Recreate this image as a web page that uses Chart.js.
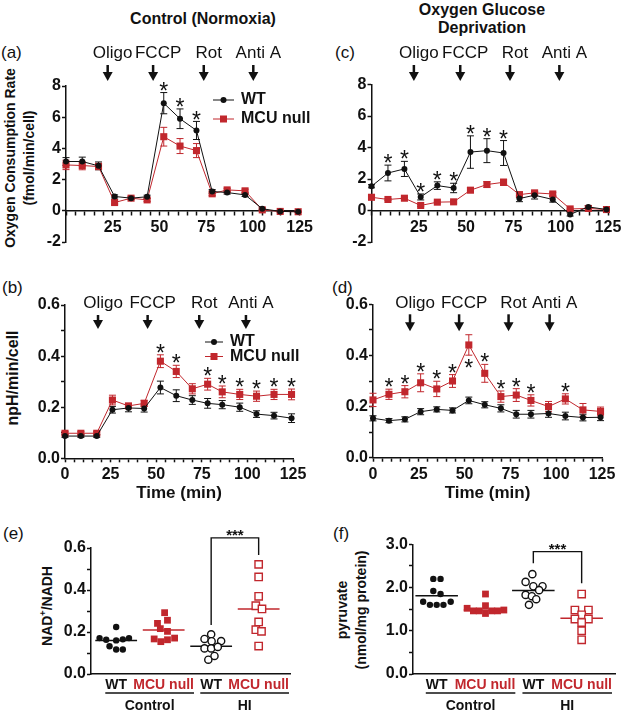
<!DOCTYPE html>
<html>
<head>
<meta charset="utf-8">
<title>MCU null respiration</title>
<script src="https://cdn.jsdelivr.net/npm/chart.js@4.4.0/dist/chart.umd.min.js"></script>
<style>
  body { margin: 0; background: #fff; }
  #figure { position: relative; width: 626px; height: 715px; overflow: hidden;
            font-family: "Liberation Sans", Arial, Helvetica, sans-serif; color: #111; }
  #figure canvas { position: absolute; }
  .txt { position: absolute; white-space: nowrap; line-height: 1; }
  .bold { font-weight: bold; }
  .center { transform: translate(-50%, -50%); text-align: center; }
  .left { transform: translate(0, -50%); }
  .vert { transform: translate(-50%, -50%) rotate(-90deg); text-align: center; }
  sup { font-size: 9px; vertical-align: 6px; line-height: 0; }
</style>
</head>
<body>
<div id="figure">
  <div class="txt bold center" style="left:203px; top:19px; font-size:16px;">Control (Normoxia)</div>
  <div class="txt bold center" style="left:482px; top:19px; font-size:16px; line-height:18px;">Oxygen Glucose<br>Deprivation</div>

  <div class="txt left" style="left:1px; top:52px; font-size:17px;">(a)</div>
  <div class="txt left" style="left:335px; top:52px; font-size:17px;">(c)</div>
  <div class="txt left" style="left:2px; top:287px; font-size:17px;">(b)</div>
  <div class="txt left" style="left:332px; top:287px; font-size:17px;">(d)</div>
  <div class="txt left" style="left:3px; top:533px; font-size:17px;">(e)</div>
  <div class="txt left" style="left:333px; top:533px; font-size:17px;">(f)</div>

  <div class="txt bold vert" style="left:19.5px; top:158px; font-size:14px; line-height:19px;">Oxygen Consumption Rate<br>(fmol/min/cell)</div>
  <div class="txt bold vert" style="left:13px; top:378px; font-size:16px;">npH/min/cell</div>
  <div class="txt bold vert" style="left:47px; top:606px; font-size:14px;">NAD<sup>+</sup>/NADH</div>
  <div class="txt bold vert" style="left:352px; top:610px; font-size:14px; line-height:19px;">pyruvate<br>(nmol/mg protein)</div>
</div>

<script>
// ---------- data ----------
const times = [0, 8.7, 17.4, 26, 34.8, 43.4, 52.3, 61, 69.8, 78.2, 86.2, 95.8, 105, 114.6, 124.2];
const seriesNames = ['WT', 'MCU null'];
const injNames = ['Oligo', 'FCCP', 'Rot', 'Anti A'];

// (a) OCR, normoxia
const ocrNormWT = [3.16, 3.16, 2.88, 0.92, 0.81, 0.9, 6.9, 5.9, 5.15, 1.24, 1.17, 1.02, 0.13, -0.04, -0.06];
const ocrNormWTErr = [0.25, 0.28, 0.25, 0.1, 0.08, 0.1, 0.68, 0.63, 0.58, 0.12, 0.1, 0.1, 0.05, 0.04, 0.04];
const ocrNormMCU = [2.94, 2.9, 2.84, 0.53, 0.81, 0.7, 4.75, 4.15, 3.86, 1.09, 1.34, 1.28, 0.06, -0.04, -0.06];
const ocrNormMCUErr = [0.3, 0.27, 0.2, 0.1, 0.07, 0.1, 0.6, 0.48, 0.45, 0.12, 0.1, 0.1, 0.04, 0.04, 0.04];
const ocrNormSig = [6, 7, 8];
const ocrNormInj = [22.3, 46.6, 73.7, 100.2];

// (c) OCR, OGD
const ocrOgdWT = [1.54, 2.38, 2.64, 0.86, 1.58, 1.43, 3.71, 3.8, 3.65, 0.76, 0.97, 0.7, -0.25, 0.23, 0.06];
const ocrOgdWTErr = [0.1, 0.5, 0.48, 0.19, 0.24, 0.3, 1.03, 0.76, 0.79, 0.2, 0.24, 0.17, 0.1, 0.08, 0.05];
const ocrOgdMCU = [0.84, 0.7, 0.78, 0.32, 0.53, 0.55, 1.29, 1.65, 1.79, 1.01, 1.12, 1.05, 0.1, 0.13, 0.06];
const ocrOgdMCUErr = [0.15, 0.06, 0.06, 0.06, 0.06, 0.07, 0.15, 0.18, 0.2, 0.1, 0.1, 0.1, 0.05, 0.05, 0.05];
const ocrOgdSig = [1, 2, 3, 4, 5, 6, 7, 8];
const ocrOgdInj = [22.4, 46.9, 73.2, 99.3];

// (b) ECAR, normoxia
const ecarNormWT = [0.087, 0.087, 0.087, 0.19, 0.197, 0.195, 0.277, 0.245, 0.228, 0.215, 0.21, 0.2, 0.173, 0.167, 0.157];
const ecarNormWTErr = [0.005, 0.005, 0.005, 0.013, 0.015, 0.014, 0.025, 0.023, 0.017, 0.019, 0.016, 0.016, 0.013, 0.013, 0.017];
const ecarNormMCU = [0.098, 0.098, 0.098, 0.228, 0.205, 0.215, 0.38, 0.34, 0.272, 0.29, 0.26, 0.25, 0.243, 0.25, 0.25];
const ecarNormMCUErr = [0.006, 0.006, 0.006, 0.019, 0.01, 0.012, 0.025, 0.024, 0.02, 0.023, 0.023, 0.02, 0.02, 0.02, 0.021];
const ecarNormSig = [6, 7, 9, 10, 11, 12, 13, 14];
const ecarNormInj = [18.1, 45.3, 73.6, 99.2];

// (d) ECAR, OGD
const ecarOgdWT = [0.154, 0.145, 0.15, 0.18, 0.189, 0.185, 0.224, 0.207, 0.193, 0.17, 0.17, 0.173, 0.163, 0.157, 0.158];
const ecarOgdWTErr = [0.01, 0.008, 0.01, 0.012, 0.01, 0.01, 0.013, 0.012, 0.014, 0.015, 0.015, 0.015, 0.015, 0.013, 0.013];
const ecarOgdMCU = [0.226, 0.248, 0.258, 0.293, 0.269, 0.3, 0.441, 0.33, 0.239, 0.245, 0.224, 0.2, 0.23, 0.187, 0.181];
const ecarOgdMCUErr = [0.026, 0.02, 0.024, 0.035, 0.03, 0.025, 0.04, 0.035, 0.022, 0.025, 0.022, 0.02, 0.02, 0.025, 0.017];
const ecarOgdSig = [1, 2, 3, 4, 5, 7, 8, 9, 10, 12];
const ecarOgdSigBelow = [6];
const ecarOgdInj = [20.2, 47, 74, 96.4];

// (e)/(f) groups
const groups = ['WT', 'MCU null', 'WT', 'MCU null'];
const conditions = ['Control', 'HI'];

// (e) NAD+/NADH, values and horizontal scatter (in group widths)
const nadWTCtrl = [0.224, 0.171, 0.163, 0.160, 0.165, 0.171, 0.132, 0.117, 0.117];
const nadWTCtrlJit = [0, -0.35, -0.21, 0, 0.14, 0.27, -0.14, 0, 0.14];
const nadMCUCtrl = [0.292, 0.241, 0.256, 0.216, 0.203, 0.167, 0.154, 0.163, 0.171];
const nadMCUCtrlJit = [0.02, -0.13, 0.08, -0.07, 0.08, -0.2, -0.06, 0.08, 0.23];
const nadWTHI = [0.189, 0.167, 0.156, 0.157, 0.122, 0.122, 0.129, 0.086, 0.068];
const nadWTHIJit = [0, -0.14, 0.01, 0.21, -0.14, 0, 0.14, 0.07, -0.06];
const nadMCUHI = [0.522, 0.462, 0.37, 0.325, 0.31, 0.248, 0.211, 0.203, 0.133];
const nadMCUHIJit = [0, 0, 0, -0.06, 0.07, 0, -0.06, 0.06, 0];
const nadMedians = [0.160, 0.209, 0.132, 0.31];
const nadBracket = [0.233, 0.648, 0.567]; // left foot, top, right foot

// (f) pyruvate
const pyrWTCtrl = [2.2, 2.2, 1.92, 1.85, 1.67, 1.6, 1.6, 1.6, 1.67];
const pyrWTCtrlJit = [-0.07, 0.08, -0.07, 0.08, -0.28, -0.14, 0, 0.14, 0.29];
const pyrMCUCtrl = [1.85, 1.58, 1.52, 1.46, 1.46, 1.40, 1.46, 1.46, 1.48];
const pyrMCUCtrlJit = [0.01, 0.01, -0.37, -0.24, -0.12, 0.01, 0.14, 0.26, 0.39];
const pyrWTHI = [2.31, 2.13, 2.03, 2.03, 1.94, 1.83, 1.8, 1.73, 1.6];
const pyrWTHIJit = [-0.02, -0.16, 0, 0.19, 0.12, -0.16, -0.03, 0.06, -0.09];
const pyrMCUHI = [1.85, 1.48, 1.48, 1.37, 1.27, 1.27, 1.19, 1.0, 0.79];
const pyrMCUHIJit = [0, -0.14, 0.14, 0, -0.14, 0.14, 0, 0, 0];
const pyrMedians = [1.81, 1.48, 1.93, 1.29];
const pyrBracket = [2.56, 2.83, 2.1];

// ---------- styles ----------
const RED = '#c1272d';
const INK = '#111111';
const FONT = '"Liberation Sans", Arial, Helvetica, sans-serif';
Chart.defaults.font.family = FONT;
Chart.defaults.color = INK;

// Create a canvas at a fixed place in the figure
function addCanvas(rect) {
    const c = document.createElement('canvas');
    c.width = rect.w;
    c.height = rect.h;
    c.style.left = rect.left + 'px';
    c.style.top = rect.top + 'px';
    document.getElementById('figure').appendChild(c);
    return c;
}

function axisLook() {
    return {
        border: { color: INK, width: 1.5 },
        grid: { drawOnChartArea: false, tickColor: INK, tickLength: 4, tickWidth: 1.5 }
    };
}

// Error bars, drawn below the markers
const errorBarPlugin = {
    id: 'errorBars',
    beforeDatasetsDraw(chart) {
        const { ctx } = chart;
        const y = chart.scales.y;
        chart.data.datasets.forEach((ds, i) => {
            if (!ds.errors) return;
            ctx.save();
            ctx.strokeStyle = ds.borderColor;
            ctx.lineWidth = 1;
            chart.getDatasetMeta(i).data.forEach((pt, j) => {
                const v = ds.data[j].y, e = ds.errors[j];
                const y1 = y.getPixelForValue(v - e), y2 = y.getPixelForValue(v + e);
                ctx.beginPath();
                ctx.moveTo(pt.x, y1); ctx.lineTo(pt.x, y2);
                ctx.moveTo(pt.x - 3.5, y1); ctx.lineTo(pt.x + 3.5, y1);
                ctx.moveTo(pt.x - 3.5, y2); ctx.lineTo(pt.x + 3.5, y2);
                ctx.stroke();
            });
            ctx.restore();
        });
    }
};

// Significance stars over (or under) the error bars
const starPlugin = {
    id: 'stars',
    afterDatasetsDraw(chart) {
        const { ctx } = chart;
        const y = chart.scales.y;
        const size = 23;
        ctx.save();
        ctx.fillStyle = INK;
        ctx.font = size + 'px ' + FONT;
        ctx.textAlign = 'center';
        ctx.textBaseline = 'alphabetic';
        chart.data.datasets.forEach((ds, i) => {
            const pts = chart.getDatasetMeta(i).data;
            (ds.sigAbove || []).forEach(j => {
                const cy = y.getPixelForValue(ds.data[j].y + ds.errors[j]) - 7;
                ctx.fillText('*', pts[j].x, cy + 0.57 * size);
            });
            (ds.sigBelow || []).forEach(j => {
                const cy = y.getPixelForValue(ds.data[j].y - ds.errors[j]) + 8;
                ctx.fillText('*', pts[j].x, cy + 0.57 * size);
            });
        });
        ctx.restore();
    }
};

// Drug injection arrows with their names
function injectionPlugin(injTimes, lay) {
    return {
        id: 'injections',
        afterDraw(chart) {
            const { ctx, chartArea } = chart;
            const x = chart.scales.x;
            ctx.save();
            ctx.fillStyle = INK;
            ctx.font = '17px ' + FONT;
            ctx.textAlign = 'center';
            ctx.textBaseline = 'middle';
            injTimes.forEach((t, i) => {
                const px = x.getPixelForValue(t);
                ctx.fillText(injNames[i], px + 5, chartArea.top + lay.label);
                const top = chartArea.top + lay.top, tip = chartArea.top + lay.tip;
                ctx.fillRect(px - 1.25, top, 2.5, tip - top - 8);
                ctx.beginPath();
                ctx.moveTo(px - 5, tip - 9);
                ctx.lineTo(px + 5, tip - 9);
                ctx.lineTo(px, tip);
                ctx.closePath();
                ctx.fill();
            });
            ctx.restore();
        }
    };
}

// Line + marker legend placed inside the plot
function legendPlugin(lay) {
    return {
        id: 'lineLegend',
        afterDraw(chart) {
            const { ctx } = chart;
            ctx.save();
            ctx.font = 'bold 16px ' + FONT;
            ctx.textBaseline = 'middle';
            chart.data.datasets.forEach((ds, i) => {
                const y = lay.y + i * lay.dy;
                const mid = lay.x + lay.len / 2;
                ctx.strokeStyle = ds.borderColor;
                ctx.fillStyle = ds.borderColor;
                ctx.lineWidth = 1;
                ctx.beginPath();
                ctx.moveTo(lay.x, y); ctx.lineTo(lay.x + lay.len, y);
                ctx.stroke();
                if (ds.pointStyle === 'rect') {
                    ctx.fillRect(mid - 3.5, y - 3.5, 7, 7);
                } else {
                    ctx.beginPath(); ctx.arc(mid, y, 3, 0, Math.PI * 2); ctx.fill();
                }
                ctx.fillStyle = INK;
                ctx.fillText(ds.label, lay.textX, y);
            });
            ctx.restore();
        }
    };
}

// Seahorse style time course panel
function timePanel(p) {
    const canvas = addCanvas(p.rect);
    const look = axisLook();
    const tickFont = { size: 16, weight: 'bold' };
    const toPoints = arr => times.map((t, i) => ({ x: t, y: arr[i] }));

    const wt = {
        label: seriesNames[0], data: toPoints(p.wt), errors: p.wtErr,
        borderColor: INK, backgroundColor: INK, borderWidth: 1,
        pointStyle: 'circle', pointRadius: 3, pointBorderWidth: 0, clip: false
    };
    const mcu = {
        label: seriesNames[1], data: toPoints(p.mcu), errors: p.mcuErr,
        borderColor: RED, backgroundColor: RED, borderWidth: 1,
        pointStyle: 'rect', pointRadius: 5, pointBorderWidth: 0, clip: false
    };
    const target = p.sigOn === 0 ? wt : mcu;
    target.sigAbove = p.sig;
    target.sigBelow = p.sigBelow || [];

    const plugins = [errorBarPlugin, starPlugin, injectionPlugin(p.inj, p.injLay)];
    if (p.legend) plugins.push(legendPlugin(p.legend));

    return new Chart(canvas, {
        type: 'line',
        data: { datasets: [wt, mcu] },
        plugins: plugins,
        options: {
            responsive: false,
            animation: false,
            layout: {
                padding: {
                    left: 0,
                    top: p.area.top - p.rect.top,
                    right: p.rect.left + p.rect.w - p.area.right,
                    bottom: p.xAtZero ? p.rect.top + p.rect.h - p.area.bottom : 0
                }
            },
            plugins: { legend: { display: false }, tooltip: { enabled: false } },
            scales: {
                x: {
                    type: 'linear', min: 0, max: 125,
                    position: p.xAtZero ? { y: 0 } : 'bottom',
                    border: look.border, grid: look.grid,
                    ticks: {
                        stepSize: 5, autoSkip: false, maxRotation: 0, padding: 3,
                        color: INK, font: tickFont,
                        callback: v => (v % 25 === 0 && !(p.xAtZero && v === 0)) ? v : ''
                    },
                    title: {
                        display: !p.xAtZero, text: 'Time (min)', color: INK,
                        font: { size: 17, weight: 'bold' }, padding: { top: 0, bottom: 6 }
                    },
                    afterFit: s => { s.height = p.xAtZero ? 0 : p.rect.top + p.rect.h - p.area.bottom; }
                },
                y: {
                    min: p.yMin, max: p.yMax,
                    border: look.border, grid: look.grid,
                    ticks: {
                        stepSize: p.yStep, autoSkip: false, padding: 1,
                        color: INK, font: tickFont, callback: p.yLabel
                    },
                    afterFit: s => { s.width = p.area.left - p.rect.left; }
                }
            }
        }
    });
}

// Dot plot with medians, group labels and a significance bracket
function dotPanel(p) {
    const canvas = addCanvas(p.rect);
    const look = axisLook();
    const toPoints = (vals, jit, c) => vals.map((v, i) => ({ x: c + jit[i], y: v }));
    const median = (c, color) => ({
        data: [{ x: c - 0.44, y: p.medians[c] }, { x: c + 0.44, y: p.medians[c] }],
        showLine: true, borderColor: color, borderWidth: 1.5, pointRadius: 0, clip: false
    });

    const datasets = [
        { data: toPoints(p.sets[0][0], p.sets[0][1], 0), pointStyle: 'circle', pointRadius: 3.2,
          backgroundColor: INK, borderColor: INK, borderWidth: 0, clip: false },
        { data: toPoints(p.sets[1][0], p.sets[1][1], 1), pointStyle: 'rect', pointRadius: 4.8,
          backgroundColor: RED, borderColor: RED, borderWidth: 0, clip: false },
        { data: toPoints(p.sets[2][0], p.sets[2][1], 2), pointStyle: 'circle', pointRadius: 3.6,
          backgroundColor: '#fff', borderColor: INK, borderWidth: 1.4, clip: false },
        { data: toPoints(p.sets[3][0], p.sets[3][1], 3), pointStyle: 'rect', pointRadius: 5.2,
          backgroundColor: '#fff', borderColor: RED, borderWidth: 1.4, clip: false },
        median(0, INK), median(1, RED), median(2, INK), median(3, RED)
    ];

    const extras = {
        id: 'groupsAndBracket',
        afterDraw(chart) {
            const { ctx, chartArea } = chart;
            const x = chart.scales.x, y = chart.scales.y;
            ctx.save();
            ctx.strokeStyle = INK;
            ctx.fillStyle = INK;
            ctx.lineWidth = 1.4;
            // significance bracket between the two HI groups
            const xl = x.getPixelForValue(2), xr = x.getPixelForValue(3);
            const yTop = y.getPixelForValue(p.bracket[1]);
            ctx.beginPath();
            ctx.moveTo(xl, y.getPixelForValue(p.bracket[0]));
            ctx.lineTo(xl, yTop);
            ctx.lineTo(xr, yTop);
            ctx.lineTo(xr, y.getPixelForValue(p.bracket[2]));
            ctx.stroke();
            ctx.font = 'bold 15px ' + FONT;
            ctx.textAlign = 'center';
            ctx.textBaseline = 'alphabetic';
            ctx.fillText('***', (xl + xr) / 2, yTop - 6 + 0.57 * 15);
            // condition underlines and names
            ctx.font = 'bold 14px ' + FONT;
            ctx.textBaseline = 'middle';
            conditions.forEach((name, k) => {
                const a = 2 * k, b = 2 * k + 1;
                const left = x.getPixelForValue(a) - ctx.measureText(groups[a]).width / 2;
                const right = x.getPixelForValue(b) + ctx.measureText(groups[b]).width / 2;
                ctx.beginPath();
                ctx.moveTo(left, chartArea.bottom + 19);
                ctx.lineTo(right, chartArea.bottom + 19);
                ctx.stroke();
                ctx.fillText(name, (left + right) / 2, chartArea.bottom + 32);
            });
            ctx.restore();
        }
    };

    return new Chart(canvas, {
        type: 'scatter',
        data: { datasets: datasets },
        plugins: [extras],
        options: {
            responsive: false,
            animation: false,
            layout: {
                padding: {
                    left: 0,
                    top: p.area.top - p.rect.top,
                    right: p.rect.left + p.rect.w - p.area.right,
                    bottom: 0
                }
            },
            plugins: { legend: { display: false }, tooltip: { enabled: false } },
            scales: {
                x: {
                    type: 'linear', min: p.xMin, max: p.xMax,
                    border: look.border,
                    grid: { display: true, drawOnChartArea: false, drawTicks: false },
                    afterBuildTicks: s => { s.ticks = groups.map((g, i) => ({ value: i })); },
                    ticks: {
                        autoSkip: false, maxRotation: 0, padding: 3,
                        font: { size: 14, weight: 'bold' },
                        color: c => (c.index % 2 ? RED : INK),
                        callback: (v, i) => groups[i]
                    },
                    afterFit: s => { s.height = p.rect.top + p.rect.h - p.area.bottom; }
                },
                y: {
                    min: 0, max: p.yMax,
                    border: look.border, grid: look.grid,
                    ticks: {
                        stepSize: p.yStep, autoSkip: false, padding: 1,
                        color: INK, font: { size: 16, weight: 'bold' }, callback: p.yLabel
                    },
                    afterFit: s => { s.width = p.area.left - p.rect.left; }
                }
            }
        }
    });
}

const ocrLabel = v => String(v);
const ecarLabel = v => (Math.round(v * 10) % 2 === 0 ? v.toFixed(1) : '');

timePanel({
    rect: { left: 0, top: 40, w: 316, h: 215 },
    area: { left: 66, top: 86, right: 303, bottom: 242 },
    wt: ocrNormWT, wtErr: ocrNormWTErr, mcu: ocrNormMCU, mcuErr: ocrNormMCUErr,
    sigOn: 0, sig: ocrNormSig,
    yMin: -2, yMax: 8, yStep: 2, yLabel: ocrLabel, xAtZero: true,
    inj: ocrNormInj, injLay: { label: -33, top: -21, tip: -5 },
    legend: { x: 213, y: 60, dy: 19, len: 21, textX: 241 }
});

timePanel({
    rect: { left: 313, top: 40, w: 313, h: 215 },
    area: { left: 371.5, top: 84.5, right: 608, bottom: 242 },
    wt: ocrOgdWT, wtErr: ocrOgdWTErr, mcu: ocrOgdMCU, mcuErr: ocrOgdMCUErr,
    sigOn: 0, sig: ocrOgdSig,
    yMin: -2, yMax: 8, yStep: 2, yLabel: ocrLabel, xAtZero: true,
    inj: ocrOgdInj, injLay: { label: -31, top: -19.5, tip: -3.5 }
});

timePanel({
    rect: { left: 0, top: 270, w: 313, h: 240 },
    area: { left: 65, top: 305, right: 293, bottom: 458.3 },
    wt: ecarNormWT, wtErr: ecarNormWTErr, mcu: ecarNormMCU, mcuErr: ecarNormMCUErr,
    sigOn: 1, sig: ecarNormSig,
    yMin: 0, yMax: 0.6, yStep: 0.1, yLabel: ecarLabel, xAtZero: false,
    inj: ecarNormInj, injLay: { label: -2, top: 10, tip: 24 },
    legend: { x: 205, y: 72, dy: 14.5, len: 18, textX: 230 }
});

timePanel({
    rect: { left: 313, top: 270, w: 313, h: 240 },
    area: { left: 373, top: 304.3, right: 602, bottom: 457.7 },
    wt: ecarOgdWT, wtErr: ecarOgdWTErr, mcu: ecarOgdMCU, mcuErr: ecarOgdMCUErr,
    sigOn: 1, sig: ecarOgdSig, sigBelow: ecarOgdSigBelow,
    yMin: 0, yMax: 0.6, yStep: 0.1, yLabel: ecarLabel, xAtZero: false,
    inj: ecarOgdInj, injLay: { label: -1, top: 10, tip: 27 }
});

dotPanel({
    rect: { left: 0, top: 515, w: 313, h: 200 },
    area: { left: 91, top: 548, right: 290, bottom: 674 },
    xMin: -0.53, xMax: 3.66, yMax: 0.6, yStep: 0.1, yLabel: ecarLabel,
    sets: [[nadWTCtrl, nadWTCtrlJit], [nadMCUCtrl, nadMCUCtrlJit], [nadWTHI, nadWTHIJit], [nadMCUHI, nadMCUHIJit]],
    medians: nadMedians, bracket: nadBracket
});

dotPanel({
    rect: { left: 313, top: 515, w: 313, h: 200 },
    area: { left: 413, top: 544.3, right: 615, bottom: 674 },
    xMin: -0.49, xMax: 3.69, yMax: 3, yStep: 0.5,
    yLabel: v => (Number.isInteger(v) ? v.toFixed(1) : ''),
    sets: [[pyrWTCtrl, pyrWTCtrlJit], [pyrMCUCtrl, pyrMCUCtrlJit], [pyrWTHI, pyrWTHIJit], [pyrMCUHI, pyrMCUHIJit]],
    medians: pyrMedians, bracket: pyrBracket
});
</script>
</body>
</html>
